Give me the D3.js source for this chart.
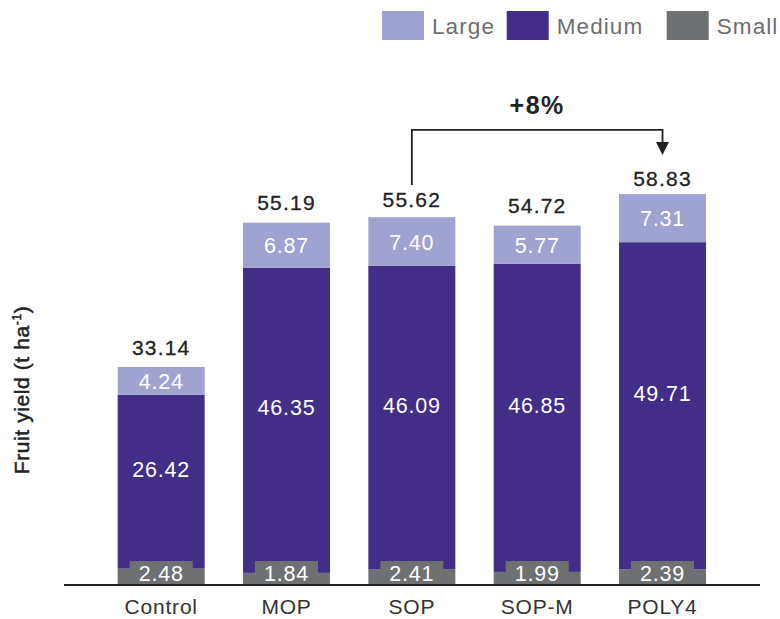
<!DOCTYPE html>
<html>
<head>
<meta charset="utf-8">
<script src="https://cdn.jsdelivr.net/npm/d3@7"></script>
<style>
  body { margin: 0; background: #fff; }
  text { font-family: "Liberation Sans", Arial, sans-serif; }
</style>
</head>
<body>
<div id="chart"></div>
<script>
const categories = ["Control", "MOP", "SOP", "SOP-M", "POLY4"];
const small  = [2.48, 1.84, 2.41, 1.99, 2.39];
const medium = [26.42, 46.35, 46.09, 46.85, 49.71];
const large  = [4.24, 6.87, 7.40, 5.77, 7.31];
const totals = [33.14, 55.19, 55.62, 54.72, 58.83];
const seriesNames = ["Large", "Medium", "Small"];
const increaseLabel = "+8%";

const colors = {Large: "#a0a3cf", Medium: "#422e86", Small: "#6f7072"};

const W = 780, H = 619;
const baseY = 585;

const svg = d3.select("#chart").append("svg")
    .attr("width", W)
    .attr("height", H);

const x = d3.scaleBand().domain(categories)
    .range([98.5, 725.2])
    .paddingInner(0.306)
    .paddingOuter(0.153);
const y = d3.scaleLinear().domain([0, 60]).range([baseY, baseY - 60 * 6.58]);

const rows = categories.map((c, i) => ({cat: c, Small: small[i], Medium: medium[i], Large: large[i], total: totals[i]}));
const stack = d3.stack().keys(["Small", "Medium", "Large"])(rows);

// bars
svg.append("g").selectAll("g")
    .data(stack)
    .join("g")
    .attr("fill", d => colors[d.key])
    .selectAll("rect")
    .data(d => d)
    .join("rect")
    .attr("x", d => x(d.data.cat))
    .attr("y", d => y(d[1]))
    .attr("width", x.bandwidth())
    .attr("height", d => y(d[0]) - y(d[1]));

const cx = c => x(c) + x.bandwidth() / 2;

// large labels
svg.append("g").selectAll("text")
    .data(stack[2])
    .join("text")
    .attr("x", d => cx(d.data.cat))
    .attr("y", d => (y(d[0]) + y(d[1])) / 2 + 8)
    .attr("text-anchor", "middle")
    .attr("fill", "#fff")
    .attr("font-size", 21.5)
    .attr("letter-spacing", 0.8)
    .text(d => d.data.Large.toFixed(2));

// medium labels
svg.append("g").selectAll("text")
    .data(stack[1])
    .join("text")
    .attr("x", d => cx(d.data.cat))
    .attr("y", d => (y(d[0]) + y(d[1])) / 2 - 5)
    .attr("text-anchor", "middle")
    .attr("fill", "#fff")
    .attr("font-size", 21.5)
    .attr("letter-spacing", 0.8)
    .text(d => d.data.Medium.toFixed(2));

// small labels with grey box
const sm = svg.append("g").selectAll("g")
    .data(rows)
    .join("g");
sm.append("rect")
    .attr("x", d => cx(d.cat) - 31.5)
    .attr("y", baseY - 24)
    .attr("width", 63)
    .attr("height", 24)
    .attr("fill", colors.Small);
sm.append("text")
    .attr("x", d => cx(d.cat))
    .attr("y", baseY - 4)
    .attr("text-anchor", "middle")
    .attr("fill", "#fff")
    .attr("font-size", 21.5)
    .attr("letter-spacing", 0.8)
    .text(d => d.Small.toFixed(2));

// totals
svg.append("g").selectAll("text")
    .data(rows)
    .join("text")
    .attr("x", d => cx(d.cat))
    .attr("y", d => y(d.total) - 12)
    .attr("text-anchor", "middle")
    .attr("fill", "#222")
    .attr("font-size", 21)
    .attr("letter-spacing", 1.2)
    .attr("stroke", "#222")
    .attr("stroke-width", 0.3)
    .text(d => d.total.toFixed(2));

// baseline
svg.append("line")
    .attr("x1", 64).attr("x2", 760)
    .attr("y1", baseY).attr("y2", baseY)
    .attr("stroke", "#222")
    .attr("stroke-width", 2);

// category axis (labels only)
const xAxis = svg.append("g")
    .attr("transform", `translate(0,${baseY})`)
    .call(d3.axisBottom(x).tickSize(0).tickPadding(0));
xAxis.select(".domain").remove();
xAxis.selectAll("text")
    .attr("dy", null)
    .attr("y", 29)
    .attr("font-size", 21)
    .attr("letter-spacing", 0.8)
    .attr("font-family", "Liberation Sans, Arial, sans-serif")
    .attr("fill", "#333");

// y axis title
const yTitle = svg.append("text")
    .attr("transform", "translate(29,390) rotate(-90)")
    .attr("text-anchor", "middle")
    .attr("fill", "#222")
    .attr("stroke", "#222")
    .attr("stroke-width", 0.5)
    .attr("font-size", 21)
    .attr("letter-spacing", 0.6);
yTitle.append("tspan").text("Fruit yield (t ha");
yTitle.append("tspan").attr("dy", -8).attr("font-size", 12).text("-1");
yTitle.append("tspan").attr("dy", 8).text(")");

// +8% bracket
const from = cx("SOP"), to = cx("POLY4");
const topY = y(d3.max(totals)) - 68;
const tipY = y(totals[4]) - 43;
svg.append("path")
    .attr("d", `M${from},${y(totals[2]) - 34}V${topY}H${to}V${tipY - 10}`)
    .attr("fill", "none")
    .attr("stroke", "#222")
    .attr("stroke-width", 1.8);
svg.append("path")
    .attr("d", `M${to - 6.5},${tipY - 13}L${to + 6.5},${tipY - 13}L${to},${tipY}Z`)
    .attr("fill", "#222");
svg.append("text")
    .attr("x", (from + to) / 2)
    .attr("y", 114)
    .attr("text-anchor", "middle")
    .attr("font-size", 25)
    .attr("font-weight", "bold")
    .attr("letter-spacing", 1.5)
    .attr("fill", "#222")
    .text(increaseLabel);

// legend
const legendX = [382, 506.7, 666.7];
const lg = svg.append("g").selectAll("g")
    .data(seriesNames)
    .join("g")
    .attr("transform", (d, i) => `translate(${legendX[i]},11)`);
lg.append("rect")
    .attr("width", 42).attr("height", 29)
    .attr("fill", d => colors[d]);
lg.append("text")
    .attr("x", 50).attr("y", 23)
    .attr("font-size", 22.5)
    .attr("letter-spacing", 1.1)
    .attr("fill", "#6d6e70")
    .text(d => d);
</script>
</body>
</html>
